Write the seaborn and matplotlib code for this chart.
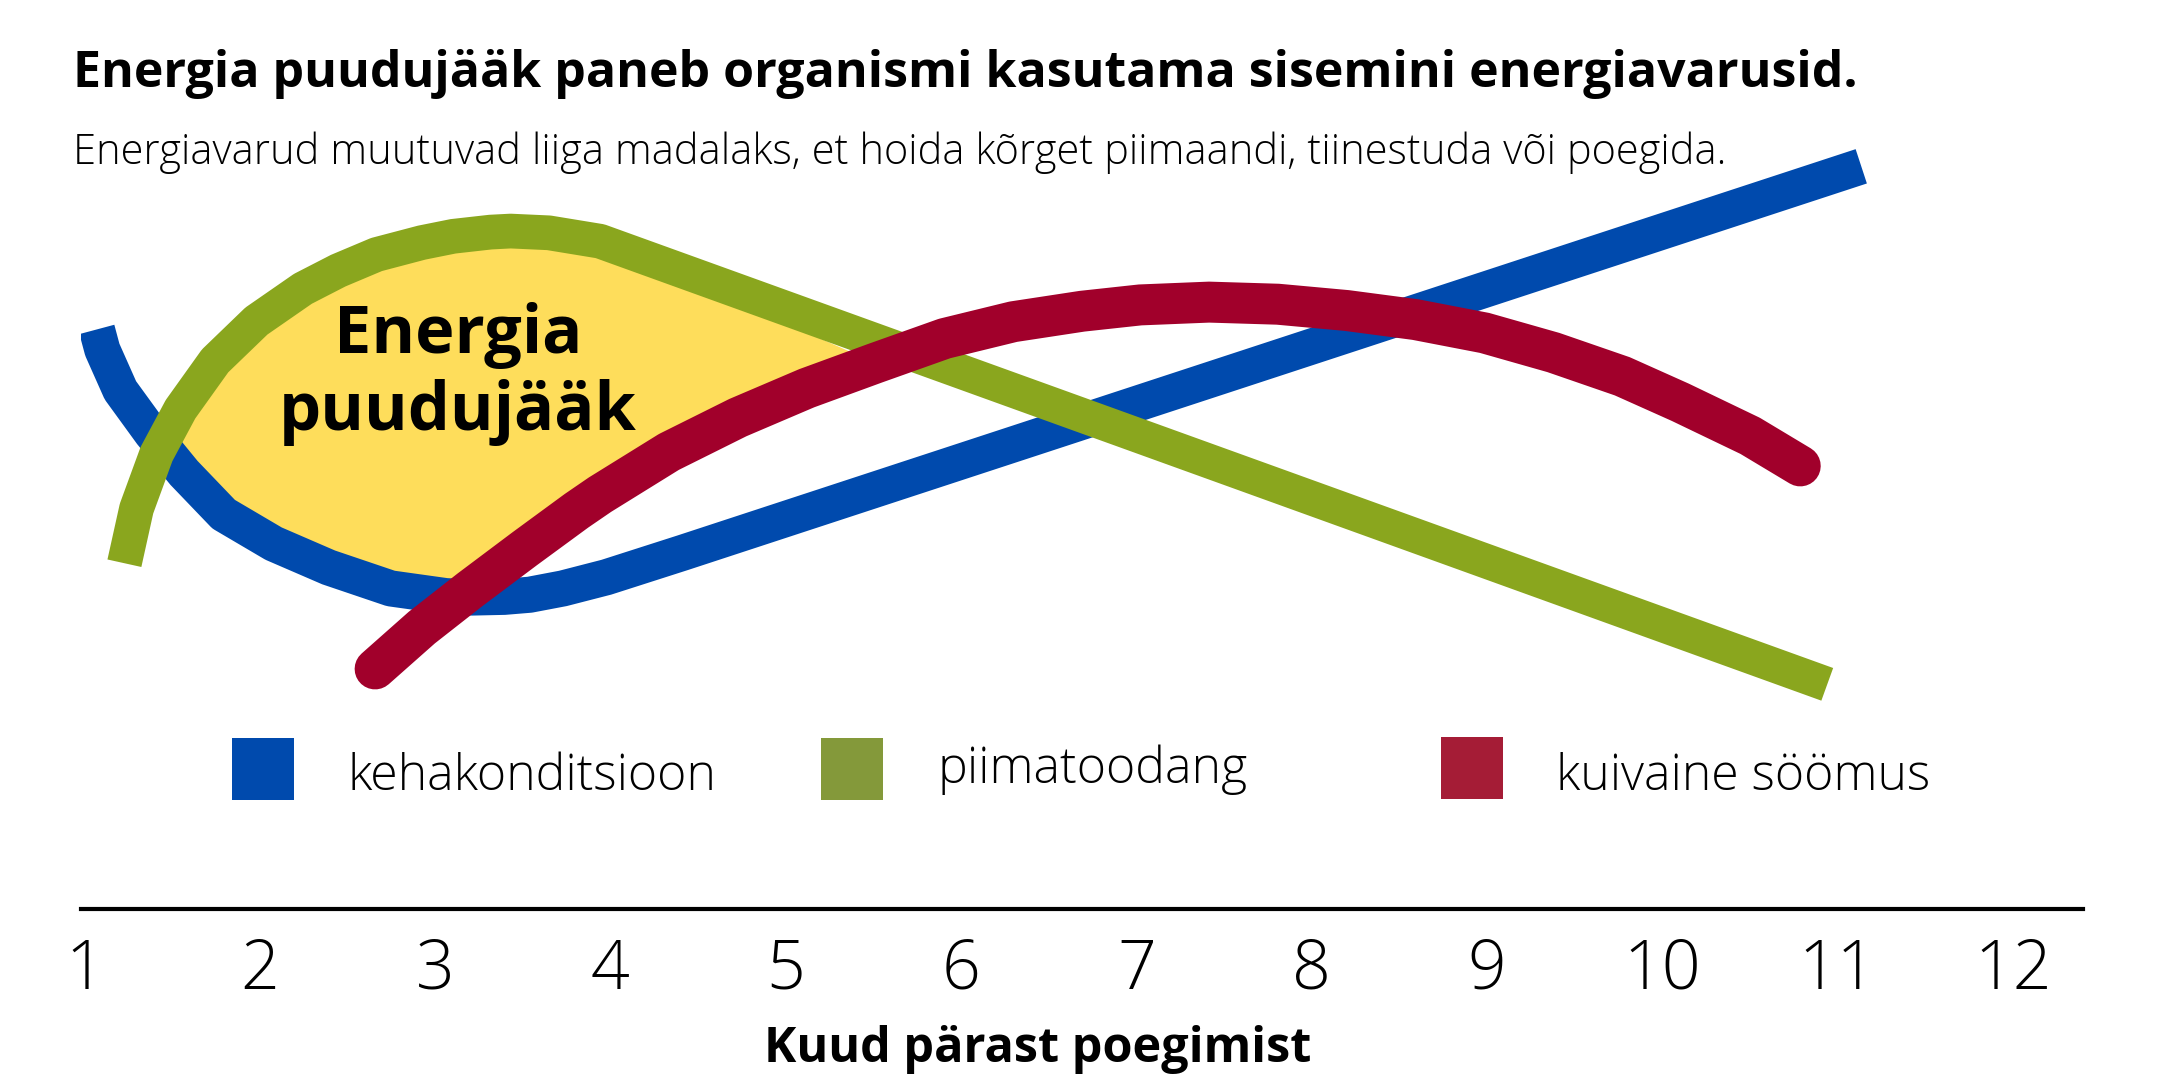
import pandas as pd
import seaborn as sns
import matplotlib.pyplot as plt
from matplotlib.patches import Rectangle

# Andmed (kuud pärast poegimist, suhteline tase), loetud pildilt
keha_kuu = [1.071, 1.102, 1.205, 1.382, 1.568, 1.794, 2.079, 2.393, 2.747, 3.061,
            3.212, 3.395, 3.540, 3.729, 3.977, 4.413, 11.135]
keha_tase = [82.8, 79.9, 74.1, 68.0, 62.3, 56.4, 52.2, 48.8, 45.8, 44.7,
             44.5, 44.6, 44.9, 45.8, 47.4, 50.9, 106.1]

piim_kuu = [1.228, 1.297, 1.411, 1.548, 1.745, 1.981, 2.246, 2.448, 2.666, 2.924,
            3.103, 3.316, 3.431, 3.649, 3.941, 10.941]
piim_tase = [49.4, 57.2, 65.0, 71.4, 78.3, 84.0, 88.6, 91.2, 93.5, 95.2,
             96.1, 96.7, 96.85, 96.6, 95.4, 32.1]

soom_kuu = [2.658, 2.924, 3.199, 3.513, 3.807, 3.941, 4.334, 4.727, 5.120, 5.513,
            5.906, 6.298, 6.691, 7.022, 7.415, 7.807, 8.200, 8.593, 8.986, 9.379,
            9.772, 10.102, 10.501, 10.787]
soom_tase = [34.3, 40.2, 45.6, 51.5, 56.9, 59.2, 65.3, 70.2, 74.4, 78.0,
             81.5, 83.9, 85.4, 86.3, 86.7, 86.4, 85.5, 84.2, 82.3, 79.5,
             76.1, 72.4, 67.6, 63.3]

kuud = list(range(1, 13))
sildid = ['kehakonditsioon', 'piimatoodang', 'kuivaine söömus']

pealkiri = 'Energia puudujääk paneb organismi kasutama sisemini energiavarusid.'
alapealkiri = 'Energiavarud muutuvad liiga madalaks, et hoida kõrget piimaandi, tiinestuda või poegida.'

SININE = '#004aad'
ROHELINE = '#8aa61e'
PUNANE = '#a1002b'
KOLLANE = '#fedd5b'

sns.set_theme(style='white')
plt.rcParams['font.family'] = ['Open Sans', 'DejaVu Sans']
plt.rcParams['text.color'] = 'black'
plt.rcParams['axes.labelcolor'] = 'black'
plt.rcParams['xtick.color'] = 'black'

keha = pd.DataFrame({'kuu': keha_kuu, 'tase': keha_tase})
piim = pd.DataFrame({'kuu': piim_kuu, 'tase': piim_tase})
soom = pd.DataFrame({'kuu': soom_kuu, 'tase': soom_tase})

fig = plt.figure(figsize=(21.6, 10.8), dpi=100)
ax = fig.add_axes([0.03755, 0.1583, 0.9269, 0.7417])

# energia puudujäägi ala (piimatoodangu ülemine, keha/söömuse alumine piir)
p = piim[(piim.kuu >= 1.4) & (piim.kuu <= 4.0)]
s = soom[(soom.kuu >= 3.19) & (soom.kuu <= 5.6)].iloc[::-1]
k = keha[(keha.kuu >= 1.35) & (keha.kuu <= 3.1)].iloc[::-1]
ala_x = list(p.kuu) + list(s.kuu) + list(k.kuu)
ala_y = list(p.tase) + list(s.tase) + list(k.tase)
ax.fill(ala_x, ala_y, color=KOLLANE, lw=0, zorder=1)

sns.lineplot(data=keha, x='kuu', y='tase', color=SININE, linewidth=26,
             solid_capstyle='butt', solid_joinstyle='round', ax=ax, zorder=2)
sns.lineplot(data=piim, x='kuu', y='tase', color=ROHELINE, linewidth=25,
             solid_capstyle='butt', solid_joinstyle='round', ax=ax, zorder=3)
sns.lineplot(data=soom, x='kuu', y='tase', color=PUNANE, linewidth=29.5,
             solid_capstyle='round', solid_joinstyle='round', ax=ax, zorder=4)

ax.text(3.13, 76.4, 'Energia\npuudujääk', ha='center', va='center',
        fontsize=48, fontweight='bold', linespacing=1.2, zorder=5)

ax.set_xlim(0.981, 12.401)
ax.set_ylim(0, 114.43)
ax.set_xticks(kuud)
ax.set_xticklabels([str(m) for m in kuud], fontsize=49, fontweight='light')
ax.set_yticks([])
ax.tick_params(axis='x', length=0, pad=20)
for side in ['top', 'left', 'right']:
    ax.spines[side].set_visible(False)
ax.spines['bottom'].set_color('black')
ax.spines['bottom'].set_linewidth(3)
ax.set_xlabel('Kuud pärast poegimist', fontsize=35, fontweight='bold')
ax.xaxis.set_label_coords(0.4777, -0.145)
ax.set_ylabel('')

fig.text(0.0337, 0.919, pealkiri, fontsize=36, fontweight='bold', va='baseline')
fig.text(0.0337, 0.848, alapealkiri, fontsize=30, fontweight='light', va='baseline')

# legend
legend_varvid = [SININE, '#84993a', '#a51c36']
ruudud = [(232, 738), (821, 738), (1441, 737)]
teksti_x = [347, 937, 1556]
teksti_y = [790, 783, 790]
for varv, (rx, ry), tx, ty, silt in zip(legend_varvid, ruudud, teksti_x, teksti_y, sildid):
    fig.patches.append(Rectangle((rx / 2160, 1 - (ry + 62) / 1080), 62 / 2160, 62 / 1080,
                                 transform=fig.transFigure, color=varv, lw=0))
    fig.text(tx / 2160, 1 - ty / 1080, silt, fontsize=36, fontweight='light', va='baseline')

fig.savefig('out.png', dpi=100, facecolor='white')
